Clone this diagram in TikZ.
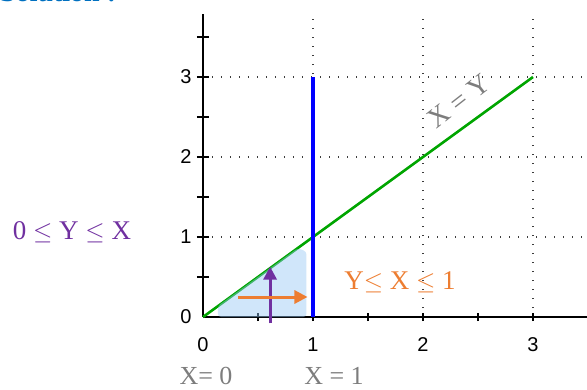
\documentclass[tikz,border=0pt]{standalone}
\usepackage{fontspec}
\setmainfont{Liberation Serif}
\newfontfamily\ticksans{Liberation Sans}
\usetikzlibrary{arrows.meta}
\definecolor{solblue}{RGB}{0,112,192}
\definecolor{gridgray}{RGB}{60,60,60}
\definecolor{lineGreen}{RGB}{0,165,0}
\definecolor{shadeBlue}{RGB}{150,200,245}
\definecolor{purp}{RGB}{112,48,160}
\definecolor{orng}{RGB}{237,125,49}
\definecolor{labgray}{RGB}{125,125,125}
\tikzset{
  gridline/.style={gridgray, line width=1.3pt, dash pattern=on 1.3pt off 7.7pt},
  axisline/.style={black, line width=1.4pt},
  tickmark/.style={black, line width=1.2pt},
  ticklabel/.style={font=\ticksans\fontsize{20}{22}\selectfont, inner sep=0pt},
  bigtext/.style={font=\fontsize{27}{30}\selectfont, inner sep=0pt},
  arr/.style={line width=3pt, -{Triangle[length=13pt,width=13pt]}}
}
\begin{document}
\begin{tikzpicture}[x=110pt,y=80pt]
\useasboundingbox (-203pt,-72pt) rectangle (384pt,317pt);
% title (mostly cut off)
\node[anchor=base west, inner sep=0pt, text=solblue, font=\bfseries\fontsize{28}{30}\selectfont] (title) at (-203pt,315pt) {Solution :};
% grid
\foreach \i in {1,2,3} {
  \draw[gridline] (\i,0) -- (\i,303pt);
  \draw[gridline] (0,\i) -- (384pt,\i*80pt);
}
% axes
\coordinate (O) at (0,0);
\coordinate (xend) at (384pt,0);
\coordinate (ytop) at (0,303pt);
\draw[axisline] (O) -- (xend);
\draw[axisline] (O) -- (ytop);
\foreach \t in {0.5,1,1.5,2,2.5,3} \draw[tickmark] (\t,-4pt) -- (\t,4pt);
\foreach \t in {0.5,1,1.5,2,2.5,3,3.5} \draw[tickmark] (-6pt,\t) -- (6pt,\t);
\foreach \i in {0,1,2,3} {
  \node[ticklabel] (xl\i) at (\i,-28pt) {\i};
  \node[ticklabel] (yl\i) at (-17pt,\i) {\i};
}
% lines
\coordinate (g0) at (0,0);
\coordinate (g3) at (3,3);
\draw[lineGreen, line width=2.6pt] (g0) -- (g3);
\coordinate (b0) at (1,0);
\coordinate (b3) at (1,3);
\draw[blue, line width=3.5pt] (b0) -- (b3);
% shaded region
\fill[shadeBlue, opacity=0.45, rounded corners=3pt] (0.136,0) -- (0.136,0.14) -- (0.86,0.86) -- (0.94,0.82) -- (0.94,0) -- cycle;
% arrows
\coordinate (pA) at (0.61,-0.08);
\coordinate (pB) at (0.61,0.63);
\draw[arr, purp] (pA) -- (pB);
\coordinate (oA) at (0.32,0.25);
\coordinate (oB) at (0.95,0.25);
\draw[arr, orng] (oA) -- (oB);
% labels
\node[bigtext, text=orng] (ylab) at (197pt,35pt) {Y$\leq$ X $\leq$ 1};
\node[bigtext, text=purp] (lab0) at (-131pt,85pt) {0 $\leq$ Y $\leq$ X};
\node[bigtext, text=labgray, rotate=38, font=\fontsize{28}{30}\selectfont] (xy) at (256pt,216pt) {X = Y};
\node[bigtext, text=labgray, font=\fontsize{26}{28}\selectfont] (x0) at (3pt,-59pt) {X= 0};
\node[bigtext, text=labgray, font=\fontsize{26}{28}\selectfont] (x1) at (131pt,-59pt) {X = 1};
\end{tikzpicture}
\end{document}
